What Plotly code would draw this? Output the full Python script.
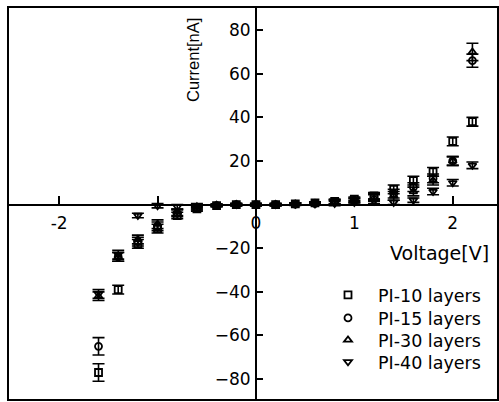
import plotly.graph_objects as go

voltage = [-1.6, -1.4, -1.2, -1.0, -0.8, -0.6, -0.4, -0.2, 0.0, 0.2, 0.4, 0.6, 0.8, 1.0, 1.2, 1.4, 1.6, 1.8, 2.0, 2.2]

pi10 = [-77, -39, -18, -11, -5, -2, -0.5, 0, 0, 0, 0.3, 0.8, 1.5, 2.5, 4, 7, 11, 15, 29, 38]
pi15 = [-65, -24, -17, -10, -4, -1.5, -0.5, 0, 0, 0, 0.2, 0.6, 1.2, 2, 3.5, 5, 8, 12, 20, 66]
pi30 = [-42, -24, -16, -9, -3.5, -1, -0.3, 0, 0, 0, 0.2, 0.5, 1, 1.8, 3, 4, 6, 11, 20, 70]
pi40 = [-41, -23, -5, -0.5, -1, -0.5, -0.2, 0, 0, 0, 0.1, 0.3, 0.5, 1, 1.5, 1, 2, 6, 10, 18]

err10 = [4, 2, 2, 2, 1.5, 1, 0.5, 0.5, 0.5, 0.5, 0.5, 0.5, 1, 1, 1.5, 2, 2, 2, 2, 2]
err15 = [4, 2, 2, 2, 1.5, 1, 0.5, 0.5, 0.5, 0.5, 0.5, 0.5, 1, 1, 1.5, 2, 2, 2, 2, 3]
err30 = [2, 2, 2, 2, 1.5, 1, 0.5, 0.5, 0.5, 0.5, 0.5, 0.5, 1, 1, 1.5, 2, 2, 2, 2, 4]
err40 = [2, 2, 1, 1, 1, 1, 0.5, 0.5, 0.5, 0.5, 0.5, 0.5, 1, 1, 1, 1, 1, 1.5, 1.5, 1.5]

names = ["PI-10 layers", "PI-15 layers", "PI-30 layers", "PI-40 layers"]
symbols = ["square-open", "circle-open", "triangle-up-open", "triangle-down-open"]

x_ticks = [-2, -1, 0, 1, 2]
x_ticktext = ["-2", "", "0", "1", "2"]
y_ticks = [-80, -60, -40, -20, 20, 40, 60, 80]

x_range = [-2.52, 2.46]
y_range = [-89.6, 90.6]

# layout helpers (pixel geometry of plot area)
L, T, W, H = 8, 7, 490, 393
def px_x(p):
    return (p - L) / W
def px_y(p):
    return (T + H - p) / H

legend_ids = ["legend", "legend2", "legend3", "legend4"]
legend_rows = [295, 318, 340, 362]

fig = go.Figure()
for vals, errs, name, sym, lid in zip([pi10, pi15, pi30, pi40], [err10, err15, err30, err40], names, symbols, legend_ids):
    fig.add_trace(go.Scatter(
        x=voltage, y=vals, mode="markers", name=name, legend=lid,
        marker=dict(symbol=sym, size=7, color="black", line=dict(color="black", width=1.8)),
        error_y=dict(type="data", array=errs, visible=True, color="black", thickness=1.6, width=6),
    ))

font = dict(family="DejaVu Sans, sans-serif", size=17, color="black")

legend_layout = {}
for lid, row in zip(legend_ids, legend_rows):
    legend_layout[lid] = dict(x=px_x(318), y=px_y(row), xanchor="left", yanchor="middle",
                              bgcolor="rgba(0,0,0,0)", itemwidth=50,
                              font=dict(family="DejaVu Sans, sans-serif", size=17.5, color="black"))

fig.update_layout(
    width=499, height=402,
    margin=dict(l=L, r=499 - L - W, t=T, b=402 - T - H),
    paper_bgcolor="white", plot_bgcolor="white",
    font=font,
    showlegend=True,
    xaxis=dict(range=x_range, tickvals=x_ticks, ticktext=x_ticktext, ticks="inside", ticklen=8,
               tickwidth=1.5, tickcolor="black", showline=True, linewidth=2, linecolor="black",
               showgrid=False, zeroline=False, anchor="free",
               position=(0 - y_range[0]) / (y_range[1] - y_range[0]),
               tickfont=font, ticklabelstandoff=3),
    yaxis=dict(range=y_range, tickvals=y_ticks, ticks="inside", ticklen=6, tickwidth=1.5,
               tickcolor="black", showline=True, linewidth=2, linecolor="black",
               showgrid=False, zeroline=False, anchor="free",
               position=(0 - x_range[0]) / (x_range[1] - x_range[0]),
               tickfont=font, ticklabelstandoff=1),
    shapes=[dict(type="rect", xref="paper", yref="paper", x0=0, y0=0, x1=1, y1=1,
                 line=dict(color="black", width=2))],
    annotations=[
        dict(text="Current[nA]", xref="paper", yref="paper", x=px_x(193), y=px_y(60),
             showarrow=False, textangle=-90, xanchor="center", yanchor="middle",
             font=dict(family="Liberation Sans, Arial, sans-serif", size=16.5, color="black")),
        dict(text="Voltage[V]", xref="paper", yref="paper", x=px_x(491), y=px_y(253),
             showarrow=False, xanchor="right", yanchor="middle",
             font=dict(family="DejaVu Sans, sans-serif", size=19, color="black")),
    ],
    **legend_layout,
)

fig.write_html("out.html", config={"displayModeBar": False},
               post_script="document.body.style.margin='0px';")
